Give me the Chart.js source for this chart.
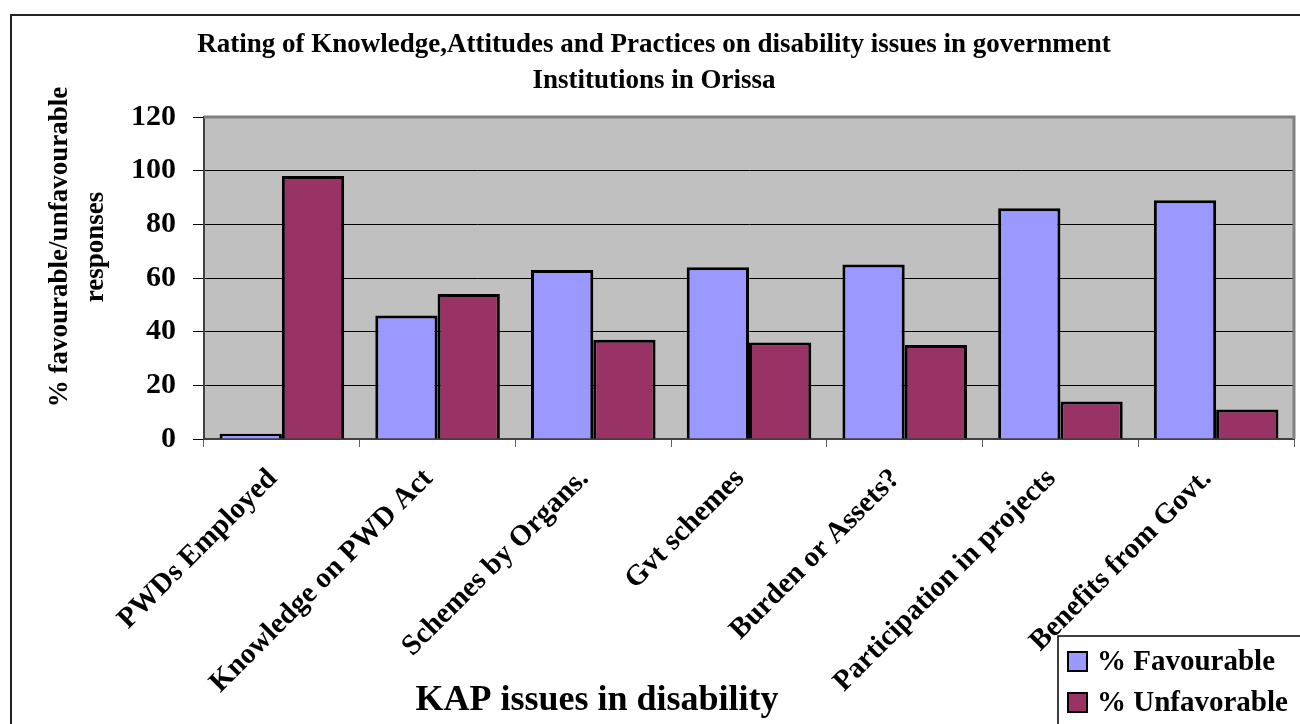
<!DOCTYPE html>
<html>
<head>
<meta charset="utf-8">
<title>KAP issues in disability</title>
<script src="https://cdn.jsdelivr.net/npm/chart.js@4.4.0/dist/chart.umd.min.js"></script>
<style>
  html, body { margin: 0; padding: 0; background: #fff; }
  canvas { display: block; }
</style>
</head>
<body>
<canvas id="kapChart" width="1300" height="724"></canvas>
<script>
const categories = [
    "PWDs Employed",
    "Knowledge on PWD Act",
    "Schemes by Organs.",
    "Gvt schemes",
    "Burden or Assets?",
    "Participation in projects",
    "Benefits from Govt.",
];
const favourable = [2, 46, 63, 64, 65, 86, 89];
const unfavourable = [98, 54, 37, 36, 35, 14, 11];
const seriesNames = ["% Favourable", "% Unfavorable"];
const titleLines = [
    "Rating of Knowledge,Attitudes and Practices on disability issues in government",
    "Institutions in Orissa",
];
const yTitleLines = ["% favourable/unfavourable", "responses"];
const xTitle = "KAP issues in disability";

const SERIF = "'Liberation Serif', 'Times New Roman', serif";

// grey plot background, frame, titles and legend
const decor = {
    id: "decor",
    beforeDraw(chart) {
        const { ctx, chartArea: a } = chart;
        ctx.save();
        ctx.fillStyle = "#c0c0c0";
        ctx.fillRect(a.left, a.top, a.right - a.left, a.bottom - a.top);
        ctx.restore();
    },
    afterDraw(chart) {
        const { ctx, chartArea: a } = chart;
        ctx.save();

        // plot border (top / right)
        ctx.strokeStyle = "#808080";
        ctx.lineWidth = 3;
        ctx.beginPath();
        ctx.moveTo(a.left, a.top);
        ctx.lineTo(a.right, a.top);
        ctx.lineTo(a.right, a.bottom);
        ctx.stroke();

        // outer frame
        ctx.strokeStyle = "#222";
        ctx.lineWidth = 2;
        ctx.strokeRect(11, 15, 1320, 740);

        ctx.fillStyle = "#000";
        ctx.textAlign = "center";
        ctx.textBaseline = "alphabetic";

        ctx.font = "bold 27px " + SERIF;
        ctx.fillText(titleLines[0], 654, 52);
        ctx.fillText(titleLines[1], 654, 88);

        ctx.font = "bold 36px " + SERIF;
        ctx.fillText(xTitle, 597, 710);

        ctx.save();
        ctx.translate(0, 247);
        ctx.rotate(-Math.PI / 2);
        ctx.font = "bold 27px " + SERIF;
        ctx.textBaseline = "middle";
        ctx.fillText(yTitleLines[0], 0, 60);
        ctx.fillText(yTitleLines[1], 0, 96);
        ctx.restore();

        // legend
        ctx.fillStyle = "#fff";
        ctx.fillRect(1058, 636, 260, 100);
        ctx.strokeStyle = "#000";
        ctx.lineWidth = 1.5;
        ctx.strokeRect(1058, 636, 260, 100);
        ctx.textAlign = "left";
        ctx.font = "bold 29px " + SERIF;
        chart.data.datasets.forEach((ds, i) => {
            const y = 652 + i * 41;
            ctx.fillStyle = ds.backgroundColor;
            ctx.fillRect(1068, y, 19, 19);
            ctx.strokeStyle = "#000";
            ctx.lineWidth = 2;
            ctx.strokeRect(1068, y, 19, 19);
            ctx.fillStyle = "#000";
            ctx.fillText(ds.label, 1097, y + 18);
        });
        ctx.restore();
    },
};

new Chart(document.getElementById("kapChart"), {
    type: "bar",
    data: {
        labels: categories,
        datasets: [
            {
                label: seriesNames[0],
                data: favourable,
                backgroundColor: "#9999ff",
                borderColor: "#000",
                borderWidth: 3,
            },
            {
                label: seriesNames[1],
                data: unfavourable,
                backgroundColor: "#993366",
                borderColor: "#000",
                borderWidth: 3,
            },
        ],
    },
    options: {
        responsive: false,
        animation: false,
        events: [],
        categoryPercentage: 0.8,
        barPercentage: 1,
        layout: { padding: { left: 0, right: 6, top: 117, bottom: 0 } },
        plugins: {
            legend: { display: false },
            tooltip: { enabled: false },
        },
        scales: {
            x: {
                afterFit: (s) => { s.height = 285; },
                grid: {
                    drawOnChartArea: false,
                    tickLength: 8,
                    tickColor: "#606060",
                },
                border: { color: "#404040", width: 2 },
                ticks: {
                    autoSkip: false,
                    minRotation: 45,
                    maxRotation: 45,
                    padding: 15,
                    labelOffset: -9,
                    color: "#000",
                    font: { family: SERIF, size: 29, weight: "bold" },
                },
            },
            y: {
                min: 0,
                max: 120,
                afterFit: (s) => { s.width = 204; },
                grid: {
                    color: "#000",
                    lineWidth: 1,
                    tickLength: 11,
                    tickColor: "#000",
                },
                border: { color: "#404040", width: 2 },
                ticks: {
                    stepSize: 20,
                    padding: 17,
                    color: "#000",
                    font: { family: SERIF, size: 30, weight: "bold" },
                },
            },
        },
    },
    plugins: [decor],
});
</script>
</body>
</html>
